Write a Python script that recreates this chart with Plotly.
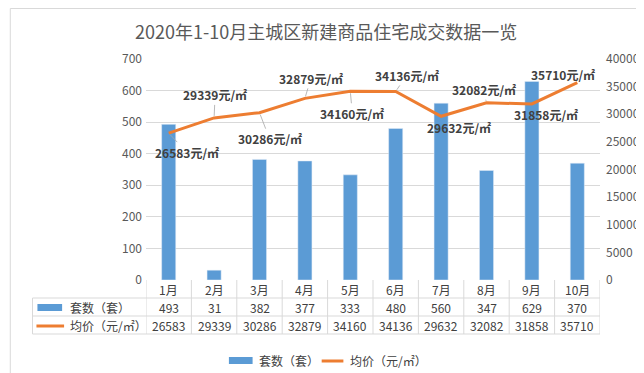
import plotly.graph_objects as go

months = ["1月", "2月", "3月", "4月", "5月", "6月", "7月", "8月", "9月", "10月"]
units = [493, 31, 382, 377, 333, 480, 560, 347, 629, 370]
prices = [26583, 29339, 30286, 32879, 34160, 34136, 29632, 32082, 31858, 35710]
label_dx = [18, 1, 10, 6, 2, 11, 18, -3, 14, -14]
label_dy = [19, -23, 26, -20, 22, -16, 11, -13, 11, -8]

W, H = 644, 373
ML, MR, MT, MB = 138, 46, 51, 101
PW, PH = W - ML - MR, H - MT - MB

BLUE = "#5B9BD5"
ORANGE = "#ED7D31"
GRID = "#D9D9D9"
TXT = "#404040"
AX = "#595959"
FONT = "Noto Sans CJK SC, Microsoft YaHei, sans-serif"


def py(pix):
    return (H - MB - pix) / PH


def px(pix):
    return (pix - ML) / PW


fig = go.Figure()
fig.add_trace(go.Bar(x=months, y=units, name="套数（套）", marker_color=BLUE,
                     width=0.31, yaxis="y"))
fig.add_trace(go.Scatter(x=months, y=prices, name="均价（元/㎡）", mode="lines",
                         line=dict(color=ORANGE, width=3), yaxis="y2"))

annotations = []
shapes = []

# data labels for line
for i, (m, p) in enumerate(zip(months, prices)):
    annotations.append(dict(
        x=m, y=p, xref="x", yref="y2", text=f"{p}元/㎡",
        showarrow=True, arrowhead=0, arrowwidth=0.8, arrowcolor="#A6A6A6",
        ax=label_dx[i], ay=label_dy[i], standoff=2,
        font=dict(size=12, color=TXT, family=FONT, weight="bold")))


def txt(x, y, text, xref="x", xanchor="center"):
    annotations.append(dict(x=x, y=y, xref=xref, yref="paper", text=text,
                            xanchor=xanchor, yanchor="middle", showarrow=False,
                            font=dict(size=12, color=TXT, family=FONT)))


# data table
row_y = [281, 299, 317]
for i, m in enumerate(months):
    txt(i, py(row_y[0]), m)
    txt(i, py(row_y[1]), str(units[i]))
    txt(i, py(row_y[2]), str(prices[i]))

# table lines
for k in range(len(months) + 1):
    shapes.append(dict(type="line", xref="x", yref="paper", x0=k - 0.5, x1=k - 0.5,
                       y0=py(272), y1=py(326), line=dict(color=GRID, width=1)))
shapes.append(dict(type="line", xref="paper", yref="paper", x0=px(23), x1=px(23),
                   y0=py(290), y1=py(326), line=dict(color=GRID, width=1)))
for yy in [290, 308, 326]:
    shapes.append(dict(type="line", xref="paper", yref="paper", x0=px(23), x1=1,
                       y0=py(yy), y1=py(yy), line=dict(color=GRID, width=1)))

# row keys
shapes.append(dict(type="rect", xref="paper", yref="paper", x0=px(28), x1=px(53),
                   y0=py(303), y1=py(296), fillcolor=BLUE, line=dict(width=0)))
shapes.append(dict(type="line", xref="paper", yref="paper", x0=px(27), x1=px(55),
                   y0=py(318), y1=py(318), line=dict(color=ORANGE, width=3)))
txt(px(59), py(299), "套数（套）", xref="paper", xanchor="left")
txt(px(59), py(317), "均价（元/㎡）", xref="paper", xanchor="left")

# bottom legend
shapes.append(dict(type="rect", xref="paper", yref="paper", x0=px(222), x1=px(246),
                   y0=py(356), y1=py(349), fillcolor=BLUE, line=dict(width=0)))
shapes.append(dict(type="line", xref="paper", yref="paper", x0=px(316), x1=px(338),
                   y0=py(353), y1=py(353), line=dict(color=ORANGE, width=3)))
txt(px(250), py(352), "套数（套）", xref="paper", xanchor="left")
txt(px(343), py(352), "均价（元/㎡）", xref="paper", xanchor="left")

# outer border
shapes.append(dict(type="rect", xref="paper", yref="paper", x0=px(0.5), x1=px(W - 0.5),
                   y0=py(H - 0.5), y1=py(0.5), line=dict(color=GRID, width=1)))

fig.update_layout(
    width=W, height=H,
    margin=dict(l=ML, r=MR, t=MT, b=MB),
    paper_bgcolor="white", plot_bgcolor="white",
    showlegend=False,
    title=dict(text="2020年1-10月主城区新建商品住宅成交数据一览", x=0.494, xanchor="center",
               y=1 - 25 / H, yanchor="middle", yref="container",
               font=dict(size=18, color=AX, family=FONT)),
    xaxis=dict(showticklabels=False, showgrid=False, zeroline=False,
               showline=False, ticks="", range=[-0.5, 9.5]),
    yaxis=dict(range=[0, 700], dtick=100, showgrid=True, gridcolor=GRID, gridwidth=1,
               zeroline=False, showline=False, ticks="", ticklabelstandoff=3,
               tickfont=dict(size=12, color=AX, family=FONT)),
    yaxis2=dict(range=[0, 40000], dtick=5000, overlaying="y", side="right",
                tickformat="d",
                showgrid=False, zeroline=False, showline=False, ticks="", ticklabelstandoff=5,
                tickfont=dict(size=12, color=AX, family=FONT)),
    annotations=annotations,
    shapes=shapes,
)

fig.write_html("out.html")
